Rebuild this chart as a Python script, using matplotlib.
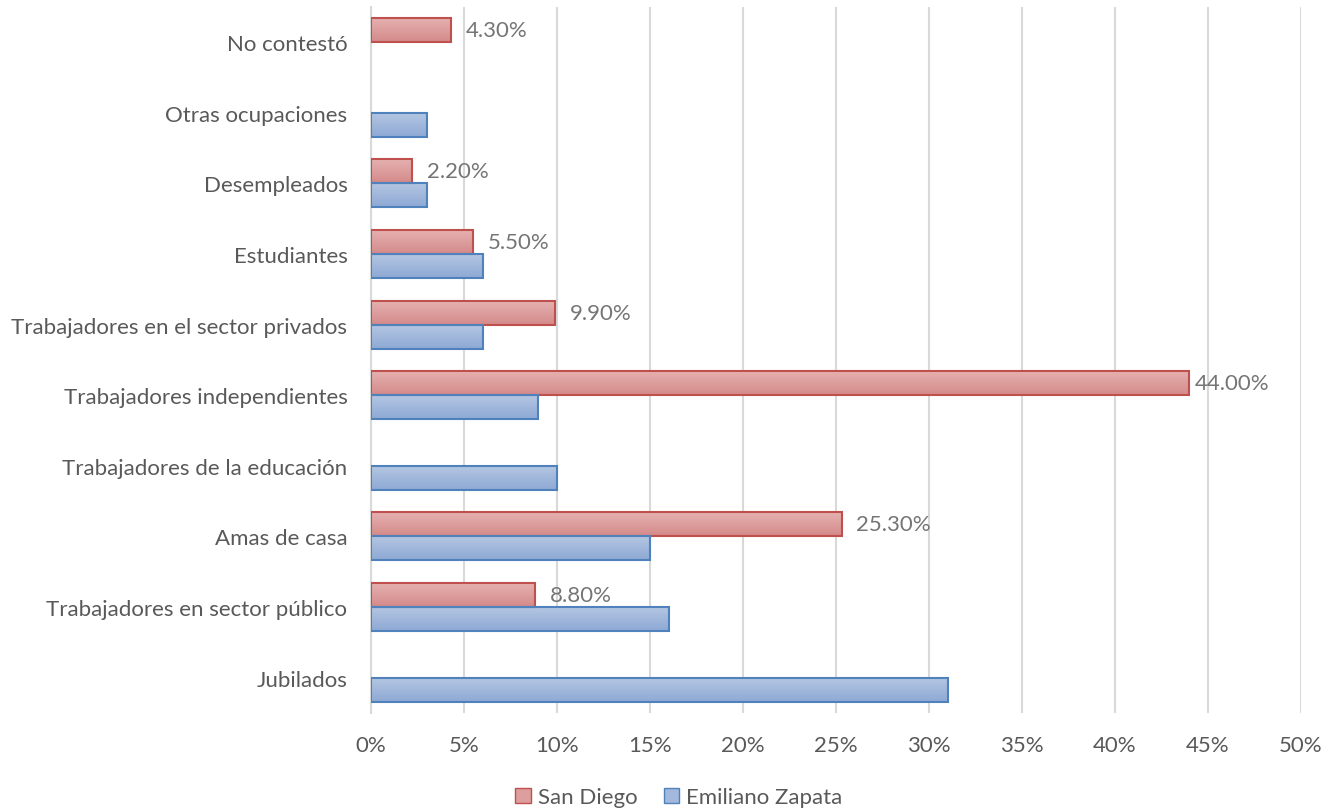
import numpy as np
import matplotlib.pyplot as plt
from matplotlib.patches import Patch

categories = ["Jubilados", "Trabajadores en sector público", "Amas de casa",
              "Trabajadores de la educación", "Trabajadores independientes",
              "Trabajadores en el sector privados", "Estudiantes", "Desempleados",
              "Otras ocupaciones", "No contestó"]
san_diego = [None, 8.8, 25.3, None, 44.0, 9.9, 5.5, 2.2, None, 4.3]
emiliano_zapata = [31, 16, 15, 10, 9, 6, 6, 3, 3, None]
xticks = [0, 5, 10, 15, 20, 25, 30, 35, 40, 45, 50]

plt.rcParams['font.family'] = ['Lato', 'DejaVu Sans']
text_color = '#595959'
fs = 16


def gradient_bar(ax, y, w, h, top_color, bottom_color, edge):
    bar = ax.barh(y, w, height=h, color='none', edgecolor=edge, linewidth=1.5, zorder=3)[0]
    top = np.array(plt.matplotlib.colors.to_rgb(top_color))
    bot = np.array(plt.matplotlib.colors.to_rgb(bottom_color))
    t = np.linspace(0, 1, 64)[:, None]
    img = (top * (1 - t) + bot * t)[:, None, :]
    im = ax.imshow(img, extent=(0, w, y - h / 2, y + h / 2), origin='upper',
                   aspect='auto', zorder=2, interpolation='bicubic')
    im.set_clip_path(bar)
    return bar


fig = plt.figure(figsize=(13.26, 8.12), dpi=100)
ax = fig.add_axes([0.2798, 0.1207, 0.7013, 0.8698])

h = 0.34
y = np.arange(len(categories))
for i in range(len(categories)):
    if san_diego[i] is not None:
        gradient_bar(ax, y[i] + h / 2, san_diego[i], h, '#e6b3b2', '#d38a89', '#c0504d')
        v = san_diego[i]
        off = 0.3 if v > 40 else 0.8
        ax.text(v + off, y[i] + h / 2, f"{v:.2f}%", va='center', ha='left',
                fontsize=fs, color='#757575', zorder=4)
    if emiliano_zapata[i] is not None:
        gradient_bar(ax, y[i] - h / 2, emiliano_zapata[i], h, '#b5c7e2', '#8ea9d5', '#4f81bd')

ax.set_xlim(0, 50)
ax.set_ylim(-0.5, len(categories) - 0.5)
ax.set_xticks(xticks)
ax.set_xticklabels([f"{t}%" for t in xticks], fontsize=fs, color=text_color)
ax.set_yticks(y)
ax.set_yticklabels(categories, fontsize=fs, color=text_color)
ax.tick_params(length=0, pad=16, axis='x')
ax.tick_params(length=0, pad=17, axis='y')
ax.grid(axis='x', color='#d9d9d9', linewidth=1.5, zorder=0)
ax.set_axisbelow(True)
for s in ['top', 'right', 'bottom']:
    ax.spines[s].set_visible(False)
ax.spines['left'].set_color('#d9d9d9')
ax.spines['left'].set_linewidth(1.5)

handles = [Patch(facecolor='#dc9f9e', edgecolor='#c0504d', label='San Diego'),
           Patch(facecolor='#a2b8dc', edgecolor='#4f81bd', label='Emiliano Zapata')]
fig.legend(handles=handles, loc='center', bbox_to_anchor=(0.512, 0.017), ncol=2,
           frameon=False, fontsize=fs, labelcolor=text_color, handlelength=0.7,
           handleheight=0.7, handletextpad=0.3, columnspacing=1.2)

fig.savefig('out.png', dpi=100)
